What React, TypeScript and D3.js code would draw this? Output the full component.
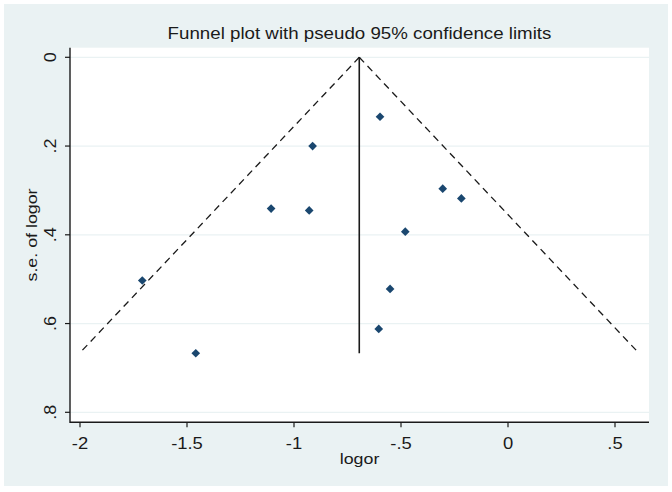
import React from "react";
import * as d3 from "d3";

const logor = [-0.598, -0.913, -1.107, -0.929, -0.305, -0.218, -0.48, -1.709, -0.551, -0.604, -1.459];
const seLogor = [0.134, 0.2, 0.341, 0.345, 0.296, 0.318, 0.393, 0.503, 0.522, 0.612, 0.667];
const pooled = -0.695;
const xTicks = [-2, -1.5, -1, -0.5, 0, 0.5];
const yTicks = [0, 0.2, 0.4, 0.6, 0.8];
const title = "Funnel plot with pseudo 95% confidence limits";
const xTitle = "logor";
const yTitle = "s.e. of logor";

const fmt = (v: number) => {
  if (v === 0) return "0";
  const s = String(v);
  return s.replace(/^(-?)0\./, "$1.");
};

export default function App() {
  const W = 672, H = 492;
  const plot = { l: 70, r: 649, t: 47.7, b: 422.3 };
  const x = d3.scaleLinear().domain([-2, 0.5]).range([80, 615]);
  const y = d3.scaleLinear().domain([0, 0.8]).range([57.3, 412.3]);
  const maxSe = d3.max(seLogor) as number;
  const line = d3.line<[number, number]>().x((d) => x(d[0])).y((d) => y(d[1]));
  const leftLimit: [number, number][] = [[pooled, 0], [pooled - 1.96 * maxSe, maxSe]];
  const rightLimit: [number, number][] = [[pooled, 0], [pooled + 1.96 * maxSe, maxSe]];
  const diamond = d3.symbol().type(d3.symbolDiamond2).size(48)();
  const font = "Arial, 'Liberation Sans', sans-serif";
  const ink = "#1a1a1a";
  return (
    <svg width={W} height={H} style={{ position: "absolute", left: 0, top: 0 }} fontFamily={font}>
      <rect x={0} y={0} width={W} height={H} fill="#fff" />
      <rect x={4} y={4} width={664} height={482} fill="#EAF2F3" />
      <rect x={plot.l} y={plot.t} width={plot.r - plot.l} height={plot.b - plot.t} fill="#fff" />
      {yTicks.map((t) => (
        <line key={"g" + t} x1={plot.l} x2={plot.r} y1={y(t)} y2={y(t)} stroke="#EAF2F3" strokeWidth={1.2} />
      ))}
      <path d={line(leftLimit) || ""} fill="none" stroke={ink} strokeWidth={1.3} strokeDasharray="7,5" />
      <path d={line(rightLimit) || ""} fill="none" stroke={ink} strokeWidth={1.3} strokeDasharray="7,5" />
      <line x1={x(pooled)} x2={x(pooled)} y1={y(0)} y2={y(maxSe)} stroke={ink} strokeWidth={1.6} />
      {logor.map((v, i) => (
        <path key={"p" + i} d={diamond} transform={`translate(${x(v)},${y(seLogor[i])})`} fill="#1A476F" />
      ))}
      <line x1={plot.l} x2={plot.l} y1={plot.t} y2={plot.b + 0.7} stroke={ink} strokeWidth={1.4} />
      <line x1={plot.l} x2={plot.r} y1={plot.b} y2={plot.b} stroke={ink} strokeWidth={1.4} />
      {yTicks.map((t) => (
        <g key={"yt" + t}>
          <line x1={plot.l - 5} x2={plot.l} y1={y(t)} y2={y(t)} stroke={ink} strokeWidth={1.2} />
          <text transform={`translate(55.5,${y(t)}) rotate(-90) scale(1.12,1)`} textAnchor="middle" fontSize={16} fill={ink}>
            {fmt(t)}
          </text>
        </g>
      ))}
      {xTicks.map((t) => (
        <g key={"xt" + t}>
          <line x1={x(t)} x2={x(t)} y1={plot.b} y2={plot.b + 5} stroke={ink} strokeWidth={1.2} />
          <text transform={`translate(${x(t)},449) scale(1.15,1)`} textAnchor="middle" fontSize={16} fill={ink}>
            {fmt(t)}
          </text>
        </g>
      ))}
      <text transform={`translate(359.5,463.5) scale(1.15,1)`} textAnchor="middle" fontSize={15.5} fill={ink}>
        {xTitle}
      </text>
      <text transform={`translate(37,235) rotate(-90) scale(1.15,1)`} textAnchor="middle" fontSize={15.5} fill={ink}>
        {yTitle}
      </text>
      <text transform={`translate(359.5,39) scale(1.17,1)`} textAnchor="middle" fontSize={16} fill={ink}>
        {title}
      </text>
    </svg>
  );
}
